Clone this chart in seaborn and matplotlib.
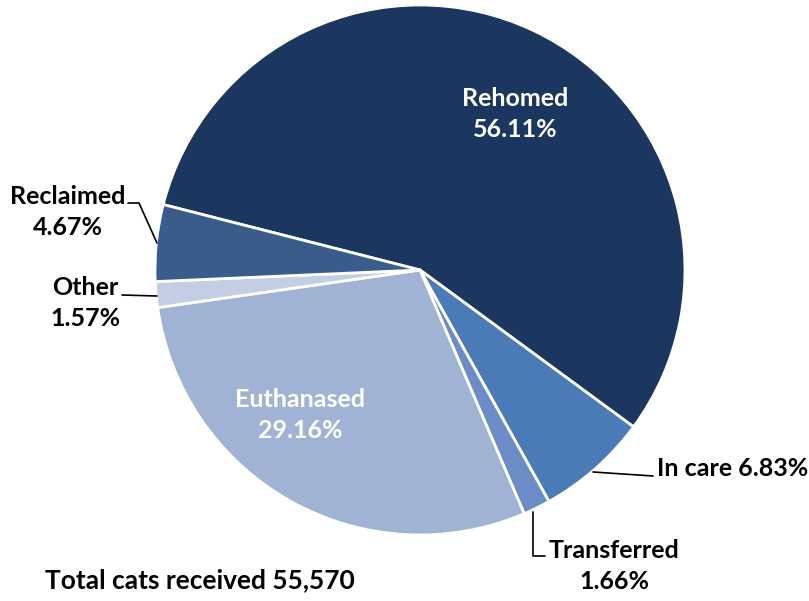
import matplotlib
matplotlib.use("Agg")
import matplotlib.pyplot as plt
import seaborn as sns

# outcome shares for cats received
outcomes = ["Rehomed", "In care", "Transferred", "Euthanased", "Other", "Reclaimed"]
shares = [56.11, 6.83, 1.66, 29.16, 1.57, 4.67]
total_received = "55,570"

colors = ["#1b365f", "#4a7bb6", "#6b8cc6", "#a1b3d5", "#c3cde4", "#3a5c8b"]

sns.set_theme(style="white")
plt.rcParams['font.family'] = ['Lato', 'DejaVu Sans']

fig = plt.figure(figsize=(8.09, 6.01), dpi=100)
ax = fig.add_axes([0, 0, 1, 1])

# pie drawn in pixel-like coords (y flipped, so angles go the other way)
wedges, _ = ax.pie(shares, colors=colors, startangle=-165.7, counterclock=True,
                   center=(420, 270), radius=265, frame=True,
                   wedgeprops=dict(edgecolor="white", linewidth=2))
ax.set_xlim(0, 809)
ax.set_ylim(601, 0)
ax.axis("off")

pct = {o: f"{s:.2f}%" for o, s in zip(outcomes, shares)}
fs = 18
ls = 1.42

# labels inside the big slices
ax.text(515, 114, f"Rehomed\n{pct['Rehomed']}", color="white", fontsize=fs,
        fontweight="bold", ha="center", va="center", linespacing=ls)
ax.text(300, 415, f"Euthanased\n{pct['Euthanased']}", color="white", fontsize=fs,
        fontweight="bold", ha="center", va="center", linespacing=ls)

# outside labels with leader lines
ax.text(68, 212, f"Reclaimed\n{pct['Reclaimed']}", fontsize=fs, fontweight="bold",
        ha="center", va="center", linespacing=ls, color="black")
ax.plot([128, 139, 157], [203, 203, 243], color="black", lw=1.2)

ax.text(85, 303, f"Other\n{pct['Other']}", fontsize=fs, fontweight="bold",
        ha="center", va="center", linespacing=ls, color="black")
ax.plot([122, 157], [295, 296], color="black", lw=1.2)

ax.text(657, 469, f"In care {pct['In care']}", fontsize=fs, fontweight="bold",
        ha="left", va="center", color="black")
ax.plot([593, 653], [472, 476], color="black", lw=1.2)

ax.text(614, 566, f"Transferred\n{pct['Transferred']}", fontsize=fs, fontweight="bold",
        ha="center", va="center", linespacing=ls, color="black")
ax.plot([533, 533, 545], [512, 556, 556], color="black", lw=1.2)

ax.text(45, 580, f"Total cats received {total_received}", fontsize=19,
        fontweight="bold", ha="left", va="center", color="black")

fig.savefig("out.png", dpi=100)
